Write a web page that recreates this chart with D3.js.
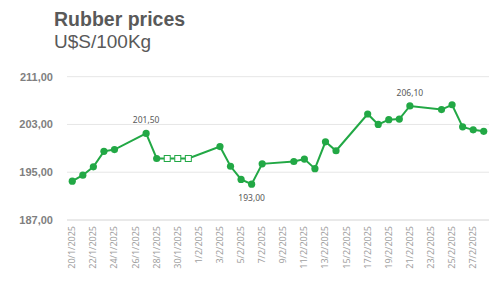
<!DOCTYPE html>
<html>
<head>
<meta charset="utf-8">
<script src="https://cdn.jsdelivr.net/npm/d3@7"></script>
<style>
  body { margin: 0; background: #fff; }
  #root { width: 500px; height: 281px; }
</style>
</head>
<body>
<div id="root"></div>
<script>
// trading days (weekends skipped); 29-31 Jan are holiday placeholders
const dates = [
  '2025-01-20', '2025-01-21', '2025-01-22', '2025-01-23', '2025-01-24',
  '2025-01-27', '2025-01-28', '2025-01-29', '2025-01-30', '2025-01-31',
  '2025-02-03', '2025-02-04', '2025-02-05', '2025-02-06', '2025-02-07',
  '2025-02-10', '2025-02-11', '2025-02-12', '2025-02-13', '2025-02-14',
  '2025-02-17', '2025-02-18', '2025-02-19', '2025-02-20', '2025-02-21',
  '2025-02-24', '2025-02-25', '2025-02-26', '2025-02-27', '2025-02-28'
];
const prices = [
  193.5, 194.5, 195.9, 198.5, 198.8,
  201.5, 197.3, 197.3, 197.3, 197.3,
  199.3, 196.0, 193.8, 193.0, 196.4,
  196.8, 197.2, 195.6, 200.1, 198.6,
  204.75, 203.0, 203.8, 203.9, 206.1,
  205.5, 206.3, 202.6, 202.1, 201.85
];
const holidayDates = ['2025-01-29', '2025-01-30', '2025-01-31'];
const labeledDates = ['2025-01-27', '2025-02-06', '2025-02-21'];
const labelAbove = [true, false, true];
const yTicks = [187, 195, 203, 211];

const parse = d3.utcParse('%Y-%m-%d');
const green = '#22a845';

const data = dates.map((d, i) => ({
  date: parse(d),
  key: d,
  value: prices[i],
  hollow: holidayDates.includes(d)
}));

const svg = d3.select('#root').append('svg')
  .attr('width', 500)
  .attr('height', 281);

// title
svg.append('text')
  .attr('x', 54).attr('y', 26)
  .attr('font-family', 'Liberation Sans, Arial, sans-serif')
  .attr('font-size', 19.5).attr('font-weight', 'bold')
  .attr('fill', '#595959')
  .text('Rubber prices');
svg.append('text')
  .attr('x', 54).attr('y', 47.5)
  .attr('font-family', 'Liberation Sans, Arial, sans-serif')
  .attr('font-size', 19)
  .attr('fill', '#595959')
  .text('U$S/100Kg');

const first = parse(dates[0]);
const last = parse(dates[dates.length - 1]);
const x = d3.scaleUtc()
  .domain([d3.utcHour.offset(first, -12), d3.utcHour.offset(last, 12)])
  .range([67, 489]);
const y = d3.scaleLinear().domain([187, 211]).range([220, 76.7]);

// gridlines
svg.append('g')
  .selectAll('line')
  .data(yTicks)
  .enter()
  .append('line')
    .attr('x1', 67).attr('x2', 489)
    .attr('y1', (d) => y(d)).attr('y2', (d) => y(d))
    .attr('stroke', (d) => d === 187 ? '#d4d4d4' : '#e6e6e6')
    .attr('stroke-width', 1);

// y labels
svg.append('g')
  .selectAll('text')
  .data(yTicks)
  .enter()
  .append('text')
    .attr('x', 53)
    .attr('y', (d) => y(d) + 4)
    .attr('text-anchor', 'end')
    .attr('font-family', 'Liberation Sans, Arial, sans-serif')
    .attr('font-size', 11).attr('font-weight', 'bold')
    .attr('fill', '#7f7f7f')
    .text((d) => d3.format('.2f')(d).replace('.', ','));

// x labels every 2 days
const xTicks = d3.utcDay.range(first, d3.utcDay.offset(last, 1), 2);
const fmtX = d3.utcFormat('%-d/%-m/%Y');
svg.append('g')
  .selectAll('text')
  .data(xTicks)
  .enter()
  .append('text')
    .attr('transform', (d) => 'translate(' + (x(d) + 3) + ',226) rotate(-90)')
    .attr('text-anchor', 'end')
    .attr('font-family', 'Noto Sans, sans-serif')
    .attr('font-size', 9)
    .attr('fill', '#a0a0a0')
    .text((d) => fmtX(d));

// line
const line = d3.line()
  .x((d) => x(d.date))
  .y((d) => y(d.value));
svg.append('path')
  .datum(data)
  .attr('d', line)
  .attr('fill', 'none')
  .attr('stroke', green)
  .attr('stroke-width', 2);

// markers
svg.append('g')
  .selectAll('circle')
  .data(data.filter((d) => !d.hollow))
  .enter()
  .append('circle')
    .attr('cx', (d) => x(d.date))
    .attr('cy', (d) => y(d.value))
    .attr('r', 3.6)
    .attr('fill', green);

svg.append('g')
  .selectAll('rect')
  .data(data.filter((d) => d.hollow))
  .enter()
  .append('rect')
    .attr('x', (d) => x(d.date) - 3)
    .attr('y', (d) => y(d.value) - 3)
    .attr('width', 6).attr('height', 6)
    .attr('fill', '#fff')
    .attr('stroke', green)
    .attr('stroke-width', 1);

// data labels
svg.append('g')
  .selectAll('text')
  .data(data.filter((d) => labeledDates.includes(d.key)))
  .enter()
  .append('text')
    .attr('x', (d) => x(d.date))
    .attr('y', (d) => labelAbove[labeledDates.indexOf(d.key)] ? y(d.value) - 10 : y(d.value) + 17)
    .attr('text-anchor', 'middle')
    .attr('font-family', 'Noto Sans, sans-serif')
    .attr('font-size', 8.5)
    .attr('fill', '#595959')
    .text((d) => d3.format('.2f')(d.value).replace('.', ','));
</script>
</body>
</html>
